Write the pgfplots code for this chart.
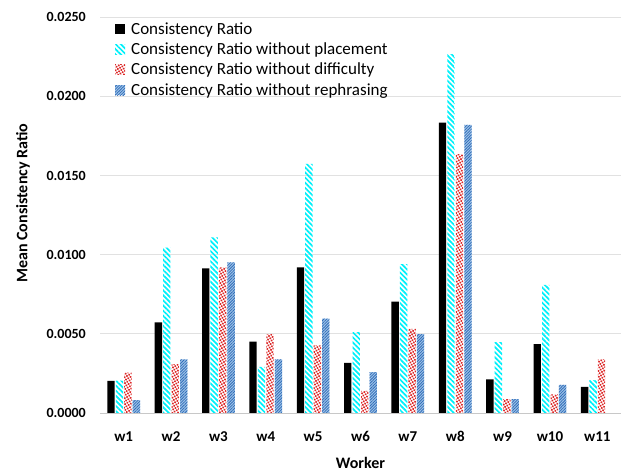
\documentclass[border=0pt]{standalone}
\usepackage{pgfplots}
\pgfplotsset{compat=1.18}
\usepackage{fontspec}
\setmainfont{Carlito}
\usetikzlibrary{patterns.meta}
\definecolor{cyanbar}{RGB}{0,240,250}
\definecolor{reddot}{RGB}{220,40,40}
\definecolor{bluelight}{RGB}{160,196,232}
\definecolor{bluedark}{RGB}{50,110,185}
\definecolor{gridgray}{RGB}{225,225,225}
\definecolor{axisgray}{RGB}{200,200,200}
\begin{document}
\begin{tikzpicture}
\path[use as bounding box] (-100pt,-60.3pt) rectangle (522pt,413pt);
\begin{axis}[
  at={(0,0)}, anchor=south west,
  scale only axis,
  width=521pt, height=395.7pt,
  ymin=0, ymax=0.025,
  xmin=-0.5, xmax=10.5,
  ytick={0,0.005,0.01,0.015,0.02,0.025},
  scaled y ticks=false,
  yticklabel={\pgfmathprintnumber[fixed,fixed zerofill,precision=4,assume math mode=true]{\tick}},
  yticklabel style={anchor=east, inner sep=0pt, xshift=-14pt, font=\fontsize{14}{16}\selectfont\bfseries},
  xtick={0,1,2,3,4,5,6,7,8,9,10},
  xticklabels={w1,w2,w3,w4,w5,w6,w7,w8,w9,w10,w11},
  xticklabel style={anchor=base, inner sep=0pt, yshift=-29pt, font=\fontsize{15}{17}\selectfont\bfseries},
  major tick length=0pt,
  axis lines*=left,
  y axis line style={draw=none},
  x axis line style={draw=axisgray, line width=0.8pt},
  ymajorgrids, grid style={draw=gridgray, line width=0.8pt},
  ylabel={Mean Consistency Ratio},
  ylabel style={at={(rel axis cs:-0.148,0.53)}, anchor=center, rotate=0, font=\fontsize{16}{18}\selectfont\bfseries},
  xlabel={Worker},
  xlabel style={at={(rel axis cs:0.5,0)}, anchor=center, yshift=-50pt, font=\fontsize{16}{18}\selectfont\bfseries},
  ybar, bar width=0.155,
  legend image code/.code={\path[#1] (0pt,-5pt) rectangle (10pt,5pt); \path (14pt,0pt);},
  legend style={at={(rel axis cs:0,1)}, anchor=north west, xshift=15pt, yshift=-3pt,
    draw=none, fill=none, inner sep=0pt, row sep=3pt,
    font=\fontsize{17}{19}\selectfont},
  legend cell align=left,
]
\addplot[draw=none, fill=black, bar shift=-0.268] coordinates {
(0,0.00203) (1,0.00572) (2,0.00913) (3,0.00451) (4,0.00920) (5,0.00316) (6,0.00703) (7,0.01835) (8,0.00213) (9,0.00435) (10,0.00165)};
\addplot[draw=none, pattern={Lines[angle=-45,distance=3.6pt,line width=1.7pt]}, pattern color=cyanbar, bar shift=-0.0895] coordinates {
(0,0.00205) (1,0.01045) (2,0.01110) (3,0.00291) (4,0.01574) (5,0.00511) (6,0.00941) (7,0.02268) (8,0.00447) (9,0.00810) (10,0.00207)};
\addplot[draw=none, pattern={Dots[radius=1.15pt,distance=2.6pt,angle=30]}, pattern color=reddot, bar shift=0.0895] coordinates {
(0,0.00255) (1,0.00308) (2,0.00920) (3,0.00498) (4,0.00428) (5,0.00139) (6,0.00532) (7,0.01635) (8,0.00087) (9,0.00118) (10,0.00338)};
\addplot[draw=none, fill=bluelight, postaction={pattern={Lines[angle=45,distance=2pt,line width=0.8pt]}, pattern color=bluedark}, bar shift=0.268] coordinates {
(0,0.00082) (1,0.00338) (2,0.00951) (3,0.00338) (4,0.00597) (5,0.00259) (6,0.00498) (7,0.01820) (8,0.00087) (9,0.00177)};
\legend{Consistency Ratio, Consistency Ratio without placement, Consistency Ratio without difficulty, Consistency Ratio without rephrasing}
\end{axis}
\end{tikzpicture}
\end{document}
